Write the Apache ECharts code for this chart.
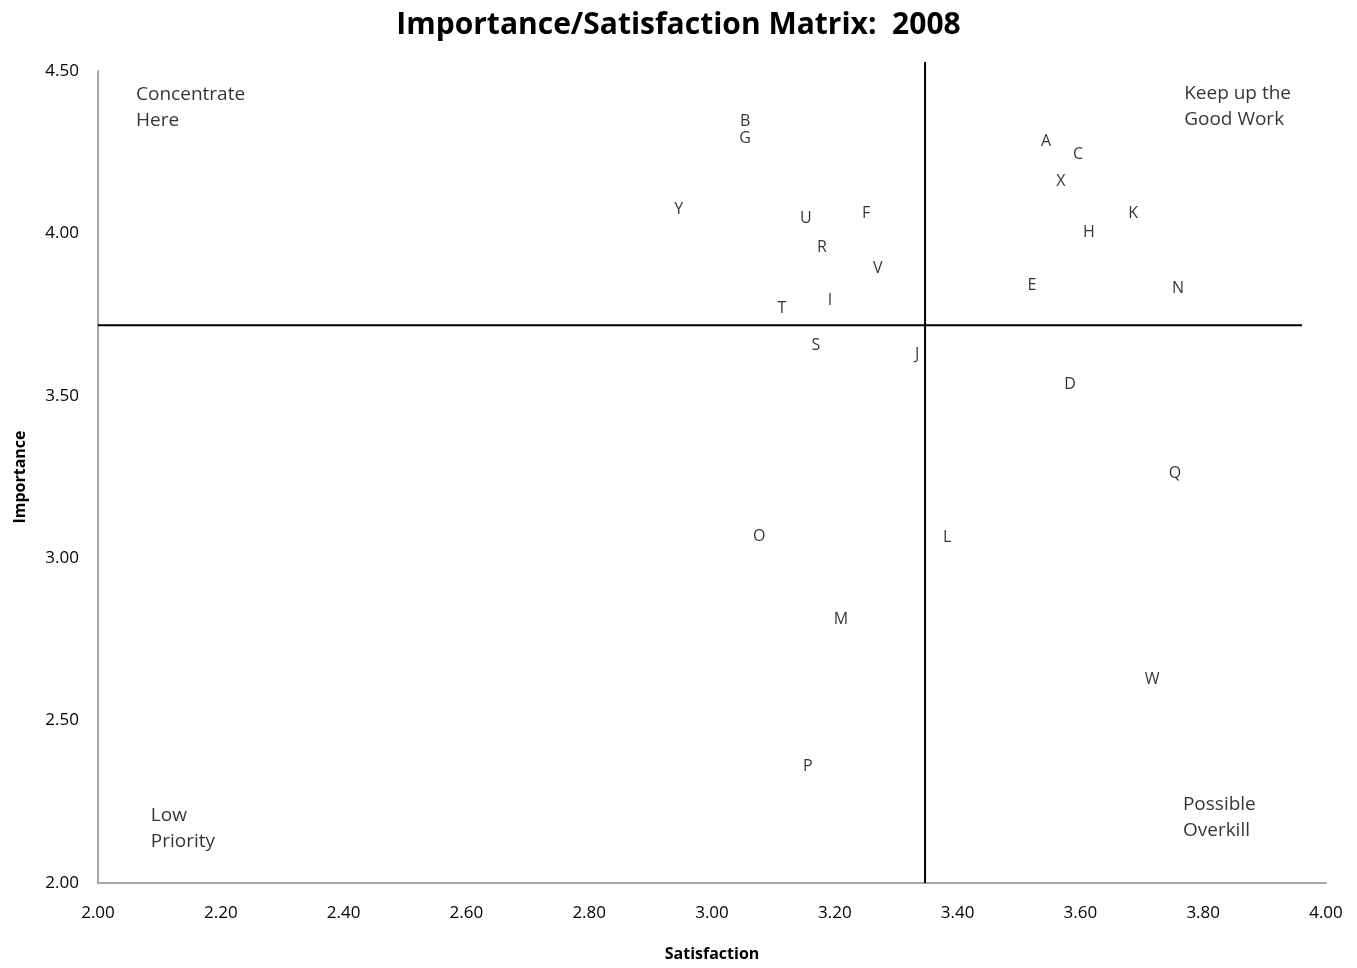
<!DOCTYPE html>
<html>
<head>
<meta charset="utf-8">
<title>Importance/Satisfaction Matrix: 2008</title>
<script src="https://cdn.jsdelivr.net/npm/echarts@6/dist/echarts.min.js"></script>
<style>
  html, body { margin: 0; padding: 0; background: #ffffff; }
  #chart { width: 1357px; height: 968px; }
</style>
</head>
<body>
<div id="chart"></div>
<script>
// Survey items: letter, satisfaction score, importance score
const itemLetters = ['B', 'G', 'A', 'C', 'X', 'K', 'H', 'Y', 'U', 'F', 'R', 'V', 'E', 'N', 'I', 'T', 'S', 'J', 'D', 'Q', 'O', 'L', 'M', 'W', 'P'];
const satisfaction = [3.054, 3.054, 3.544, 3.596, 3.568, 3.686, 3.614, 2.946, 3.153, 3.251, 3.179, 3.270, 3.521, 3.759, 3.192, 3.114, 3.169, 3.334, 3.583, 3.754, 3.077, 3.383, 3.210, 3.717, 3.156];
const importance   = [4.346, 4.291, 4.284, 4.244, 4.161, 4.063, 4.004, 4.075, 4.047, 4.063, 3.958, 3.893, 3.841, 3.832, 3.795, 3.770, 3.656, 3.626, 3.536, 3.262, 3.068, 3.065, 2.813, 2.628, 2.360];

// Quadrant dividers (mean satisfaction / mean importance)
const meanSatisfaction = 3.347;
const meanImportance = 3.717;
const vLineSpan = [2.0, 4.528];
const hLineSpan = [2.0, 3.961];

// Quadrant captions: text, anchor satisfaction, anchor importance
const quadrantText = ['Concentrate\nHere', 'Keep up the\nGood Work', 'Low\nPriority', 'Possible\nOverkill'];
const quadrantX = [2.062, 3.769, 2.086, 3.767];
const quadrantY = [4.466, 4.472, 2.249, 2.280];

// Axis ranges and tick spacing
const xMin = 2.0, xMax = 4.0, xStep = 0.2;
const yMin = 2.0, yMax = 4.5, yStep = 0.5;

const FONT = '"Open Sans", "Liberation Sans", sans-serif';

const chart = echarts.init(document.getElementById('chart'), null, { renderer: 'canvas' });

const itemData = itemLetters.map((l, i) => [satisfaction[i], importance[i], l]);
const quadData = quadrantText.map((t, i) => [quadrantX[i], quadrantY[i], t]);

chart.setOption({
  animation: false,
  backgroundColor: '#ffffff',
  title: {
    text: 'Importance/Satisfaction Matrix:  2008',
    left: 'center',
    top: 5,
    textStyle: { fontFamily: FONT, fontSize: 30, fontWeight: 'bold', color: '#000000' }
  },
  grid: { left: 98, right: 31, top: 71, bottom: 85, containLabel: false },
  xAxis: {
    type: 'value',
    min: xMin, max: xMax, interval: xStep,
    name: 'Satisfaction',
    nameLocation: 'middle',
    nameGap: 63,
    nameTextStyle: { fontFamily: FONT, fontSize: 16, fontWeight: 'bold', color: '#000000' },
    axisLine: { show: true, lineStyle: { color: '#a6a6a6', width: 2 } },
    axisTick: { show: false },
    splitLine: { show: false },
    axisLabel: { fontFamily: FONT, fontSize: 17, color: '#000000', margin: 22, formatter: v => v.toFixed(2) }
  },
  yAxis: {
    type: 'value',
    min: yMin, max: yMax, interval: yStep,
    name: 'Importance',
    nameLocation: 'middle',
    nameGap: 70,
    nameRotate: 90,
    nameTextStyle: { fontFamily: FONT, fontSize: 16, fontWeight: 'bold', color: '#000000' },
    axisLine: { show: true, lineStyle: { color: '#a6a6a6', width: 2 } },
    axisTick: { show: false },
    splitLine: { show: false },
    axisLabel: { fontFamily: FONT, fontSize: 17, color: '#000000', margin: 19, formatter: v => v.toFixed(2) }
  },
  series: [
    {
      name: 'Vertical divider',
      type: 'line',
      clip: false,
      symbol: 'none',
      silent: true,
      lineStyle: { color: '#000000', width: 2 },
      data: [[meanSatisfaction, vLineSpan[0]], [meanSatisfaction, vLineSpan[1]]]
    },
    {
      name: 'Horizontal divider',
      type: 'line',
      clip: false,
      symbol: 'none',
      silent: true,
      lineStyle: { color: '#000000', width: 2 },
      data: [[hLineSpan[0], meanImportance], [hLineSpan[1], meanImportance]]
    },
    {
      name: 'Items',
      type: 'scatter',
      symbol: 'circle',
      symbolSize: 1,
      itemStyle: { color: 'rgba(0,0,0,0)' },
      data: itemData,
      label: {
        show: true,
        position: 'inside',
        formatter: p => p.data[2],
        fontFamily: FONT,
        fontSize: 16,
        color: '#000000'
      }
    },
    {
      name: 'Quadrants',
      type: 'scatter',
      symbol: 'circle',
      symbolSize: 1,
      itemStyle: { color: 'rgba(0,0,0,0)' },
      data: quadData,
      label: {
        show: true,
        position: 'inside',
        align: 'left',
        verticalAlign: 'top',
        formatter: p => p.data[2],
        fontFamily: FONT,
        fontSize: 19,
        lineHeight: 26,
        color: '#000000'
      }
    }
  ]
});
</script>
</body>
</html>
